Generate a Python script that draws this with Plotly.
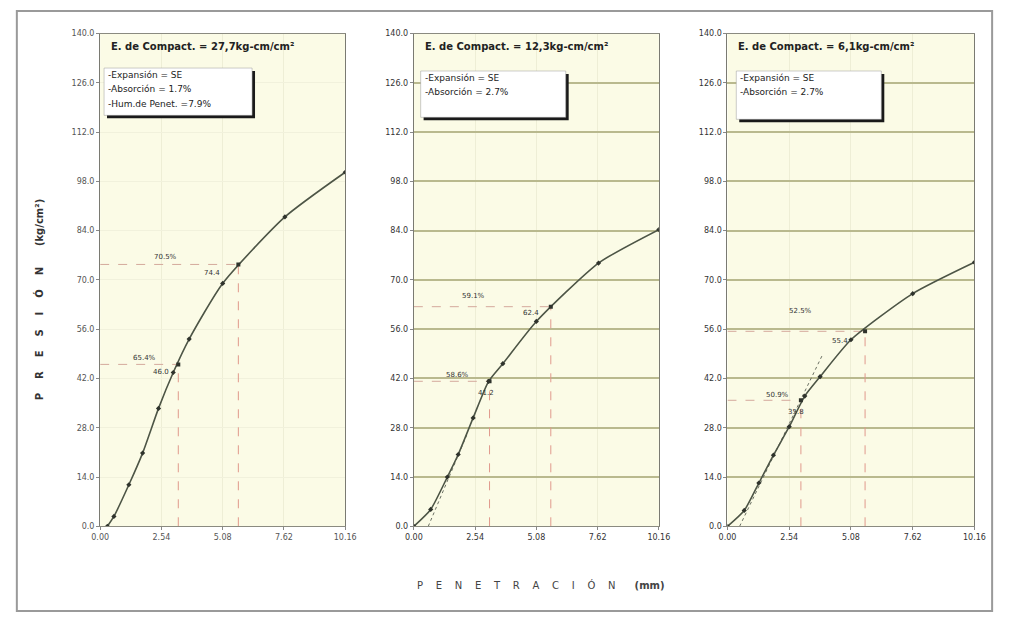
import plotly.graph_objects as go

# ---------------- data ----------------
x_ticks = [0.00, 2.54, 5.08, 7.62, 10.16]
x_tick_labels = ["0.00", "2.54", "5.08", "7.62", "10.16"]
y_ticks = [0, 14, 28, 42, 56, 70, 84, 98, 112, 126, 140]
y_tick_labels = ["0.0", "14.0", "28.0", "42.0", "56.0", "70.0", "84.0", "98.0", "112.0", "126.0", "140.0"]

# panel 1 (27,7 kg-cm/cm2)
pen_1 = [0.30, 0.57, 1.19, 1.76, 2.42, 3.03, 3.69, 5.08, 7.66, 10.16]
pres_1 = [0.0, 2.8, 11.8, 20.8, 33.5, 43.7, 53.2, 69.0, 87.9, 100.6]
corr_pen_1 = [3.24, 5.73]
corr_pres_1 = [46.0, 74.4]
value_lbl_1 = ["46.0", "74.4"]
pct_lbl_1 = ["65.4%", "70.5%"]
tan_pen_1 = []
tan_pres_1 = []

# panel 2 (12,3 kg-cm/cm2)
pen_2 = [0.00, 0.70, 1.39, 1.84, 2.46, 3.10, 3.69, 5.08, 7.66, 10.16]
pres_2 = [0.0, 4.8, 14.0, 20.4, 30.8, 41.2, 46.2, 58.2, 74.8, 84.3]
corr_pen_2 = [3.14, 5.68]
corr_pres_2 = [41.2, 62.4]
value_lbl_2 = ["41.2", "62.4"]
pct_lbl_2 = ["58.6%", "59.1%"]
tan_pen_2 = [0.60, 2.20]
tan_pres_2 = [0.0, 26.0]

# panel 3 (6,1 kg-cm/cm2)
pen_3 = [0.00, 0.69, 1.29, 1.89, 2.54, 3.18, 3.81, 5.08, 7.62, 10.16]
pres_3 = [0.0, 4.5, 12.3, 20.2, 28.3, 37.0, 42.5, 53.0, 66.1, 75.0]
corr_pen_3 = [3.02, 5.66]
corr_pres_3 = [35.8, 55.4]
value_lbl_3 = ["35.8", "55.4"]
pct_lbl_3 = ["50.9%", "52.5%"]
tan_pen_3 = [0.50, 3.90]
tan_pres_3 = [0.0, 48.6]

titles = ["E. de Compact. = 27,7kg-cm/cm²",
          "E. de Compact. = 12,3kg-cm/cm²",
          "E. de Compact. = 6,1kg-cm/cm²"]
box_texts = [["-Expansión = SE", "-Absorción = 1.7%", "-Hum.de Penet. =7.9%"],
             ["-Expansión = SE", "-Absorción = 2.7%"],
             ["-Expansión = SE", "-Absorción = 2.7%"]]

panels = [
    (pen_1, pres_1, corr_pen_1, corr_pres_1, value_lbl_1, pct_lbl_1, tan_pen_1, tan_pres_1),
    (pen_2, pres_2, corr_pen_2, corr_pres_2, value_lbl_2, pct_lbl_2, tan_pen_2, tan_pres_2),
    (pen_3, pres_3, corr_pen_3, corr_pres_3, value_lbl_3, pct_lbl_3, tan_pen_3, tan_pres_3),
]

# ---------------- layout geometry ----------------
W, H = 1009, 619
x_px = [(93, 343), (413, 663), (733, 985)]
y_px = (30, 530)  # top, bottom
ydom = [1 - y_px[1] / H, 1 - y_px[0] / H]

# label offsets (pixels) relative to corrected markers: (value dx, dy, pct dx, dy) per marker
lbl_offsets = [
    [(-17, -8, -34, 6), (-26, -9, -73, 7)],
    [(-4, -12, -32, 6), (-20, -6, -77, 11)],
    [(-5, -12, -23, 5), (-25, -10, -65, 20)],
]
box_px = [(97, 65, 248, 113), (420, 68, 568, 115), (742, 68, 890, 117)]

LINE = "#4d5546"
MARK = "#2f332c"
GRID = "#b9b98e"
HDASH = "#d4a99c"
VDASH = "#e0998c"
FONT = "DejaVu Sans"
NB = "\u00a0"

fig = go.Figure()
shapes = []
annotations = []

for i, (pen, pres, cpen, cpres, vlbl, plbl, tpen, tpres) in enumerate(panels):
    n = "" if i == 0 else str(i + 1)
    xa, ya = "x" + n, "y" + n
    # dashed reference lines
    for cx, cy in zip(cpen, cpres):
        fig.add_trace(go.Scatter(x=[0, cx], y=[cy, cy], mode="lines", xaxis=xa, yaxis=ya,
                                 line=dict(color=HDASH, width=1, dash="dash"), hoverinfo="skip"))
        fig.add_trace(go.Scatter(x=[cx, cx], y=[0, cy], mode="lines", xaxis=xa, yaxis=ya,
                                 line=dict(color=VDASH, width=1, dash="dash"), hoverinfo="skip"))
    if tpen:
        fig.add_trace(go.Scatter(x=tpen, y=tpres, mode="lines", xaxis=xa, yaxis=ya,
                                 line=dict(color="#6a6f62", width=1, dash="dot"), hoverinfo="skip"))
    fig.add_trace(go.Scatter(x=pen, y=pres, mode="lines+markers", xaxis=xa, yaxis=ya,
                             line=dict(color=LINE, width=1.6, shape="spline", smoothing=0.6),
                             marker=dict(symbol="diamond", size=4, color=MARK)))
    fig.add_trace(go.Scatter(x=cpen, y=cpres, mode="markers", xaxis=xa, yaxis=ya,
                             marker=dict(symbol="square", size=4, color=MARK)))

    x0, x1 = x_px[i]
    xdom = [x0 / W, x1 / W]
    grid_on = i > 0
    fig.layout["xaxis" + n] = dict(
        domain=xdom, range=[0, 10.16], anchor=ya, tickvals=x_ticks, ticktext=x_tick_labels,
        showgrid=True, gridcolor="#eeeed6", gridwidth=1, zeroline=False,
        showline=True, linecolor="#8a8a80", linewidth=1, mirror=True,
        ticks="outside", ticklen=3, tickcolor="#888",
        tickfont=dict(family=FONT, size=8, color="#555" if i == 0 else "#333"))
    fig.layout["yaxis" + n] = dict(
        domain=ydom, range=[0, 140], anchor=xa, tickvals=y_ticks, ticktext=y_tick_labels,
        showgrid=True, gridcolor=GRID if grid_on else "#f1f1dc", gridwidth=1.5 if grid_on else 1,
        zeroline=False, showline=True, linecolor="#7a7a72", linewidth=1.2, mirror=True,
        ticks="outside", ticklen=3, tickcolor="#888",
        tickfont=dict(family=FONT, size=8, color="#555" if i == 0 else "#333"))

    # title inside plot area
    annotations.append(dict(xref="paper", yref="paper", x=(x0 + 9) / W, y=1 - 43 / H,
                            xanchor="left", yanchor="middle", showarrow=False,
                            text="<b>" + titles[i] + "</b>",
                            font=dict(family=FONT, size=10, color="#222")))
    # info box with shadow
    bx0, by0, bx1, by1 = box_px[i]
    shapes.append(dict(type="rect", xref="paper", yref="paper",
                       x0=(bx0 + 3) / W, x1=(bx1 + 3) / W, y0=1 - (by1 + 3) / H, y1=1 - (by0 + 3) / H,
                       fillcolor="#1a1a1a", line=dict(width=0), layer="above"))
    shapes.append(dict(type="rect", xref="paper", yref="paper",
                       x0=bx0 / W, x1=bx1 / W, y0=1 - by1 / H, y1=1 - by0 / H,
                       fillcolor="white", line=dict(color="#999", width=0.5), layer="above"))
    for k, t in enumerate(box_texts[i]):
        annotations.append(dict(xref="paper", yref="paper", x=(bx0 + 2) / W,
                                y=1 - (by0 + 7 + 14.5 * k) / H, xanchor="left", yanchor="middle",
                                showarrow=False, text=t,
                                font=dict(family=FONT, size=9, color="#222")))
    # value and percentage labels
    for j, (cx, cy) in enumerate(zip(cpen, cpres)):
        vdx, vdy, pdx, pdy = lbl_offsets[i][j]
        annotations.append(dict(xref=xa, yref=ya, x=cx, y=cy, xshift=vdx, yshift=vdy,
                                showarrow=False, text=vlbl[j],
                                font=dict(family=FONT, size=7, color="#333")))
        annotations.append(dict(xref=xa, yref=ya, x=cx, y=cy, xshift=pdx, yshift=pdy,
                                showarrow=False, text=plbl[j],
                                font=dict(family=FONT, size=7, color="#333")))

# axis titles (letter-spaced)
ytitle = (NB * 4).join("PRESIÓN") + NB * 6 + "(kg/cm²)"
xtitle = (NB * 4).join("PENETRACIÓN") + NB * 6 + "<b>(mm)</b>"
annotations.append(dict(xref="paper", yref="paper", x=22 / W, y=1 - 300 / H, textangle=-90,
                        showarrow=False, text="<b>" + ytitle + "</b>",
                        font=dict(family=FONT, size=10, color="#333")))
annotations.append(dict(xref="paper", yref="paper", x=543 / W, y=1 - 598 / H,
                        showarrow=False, text=xtitle,
                        font=dict(family=FONT, size=10, color="#444")))

# outer frame
shapes.append(dict(type="rect", xref="paper", yref="paper", x0=8 / W, x1=1003 / W,
                   y0=1 - 616 / H, y1=1 - 7 / H, line=dict(color="#9a9a9a", width=2),
                   fillcolor="rgba(0,0,0,0)", layer="below"))

fig.update_layout(width=W, height=H, margin=dict(l=0, r=0, t=0, b=0),
                  paper_bgcolor="white", plot_bgcolor="#fbfbe6", showlegend=False,
                  shapes=shapes, annotations=annotations)
fig.write_html("out.html",
               post_script="document.body.style.margin='0';document.body.style.overflow='hidden';")
